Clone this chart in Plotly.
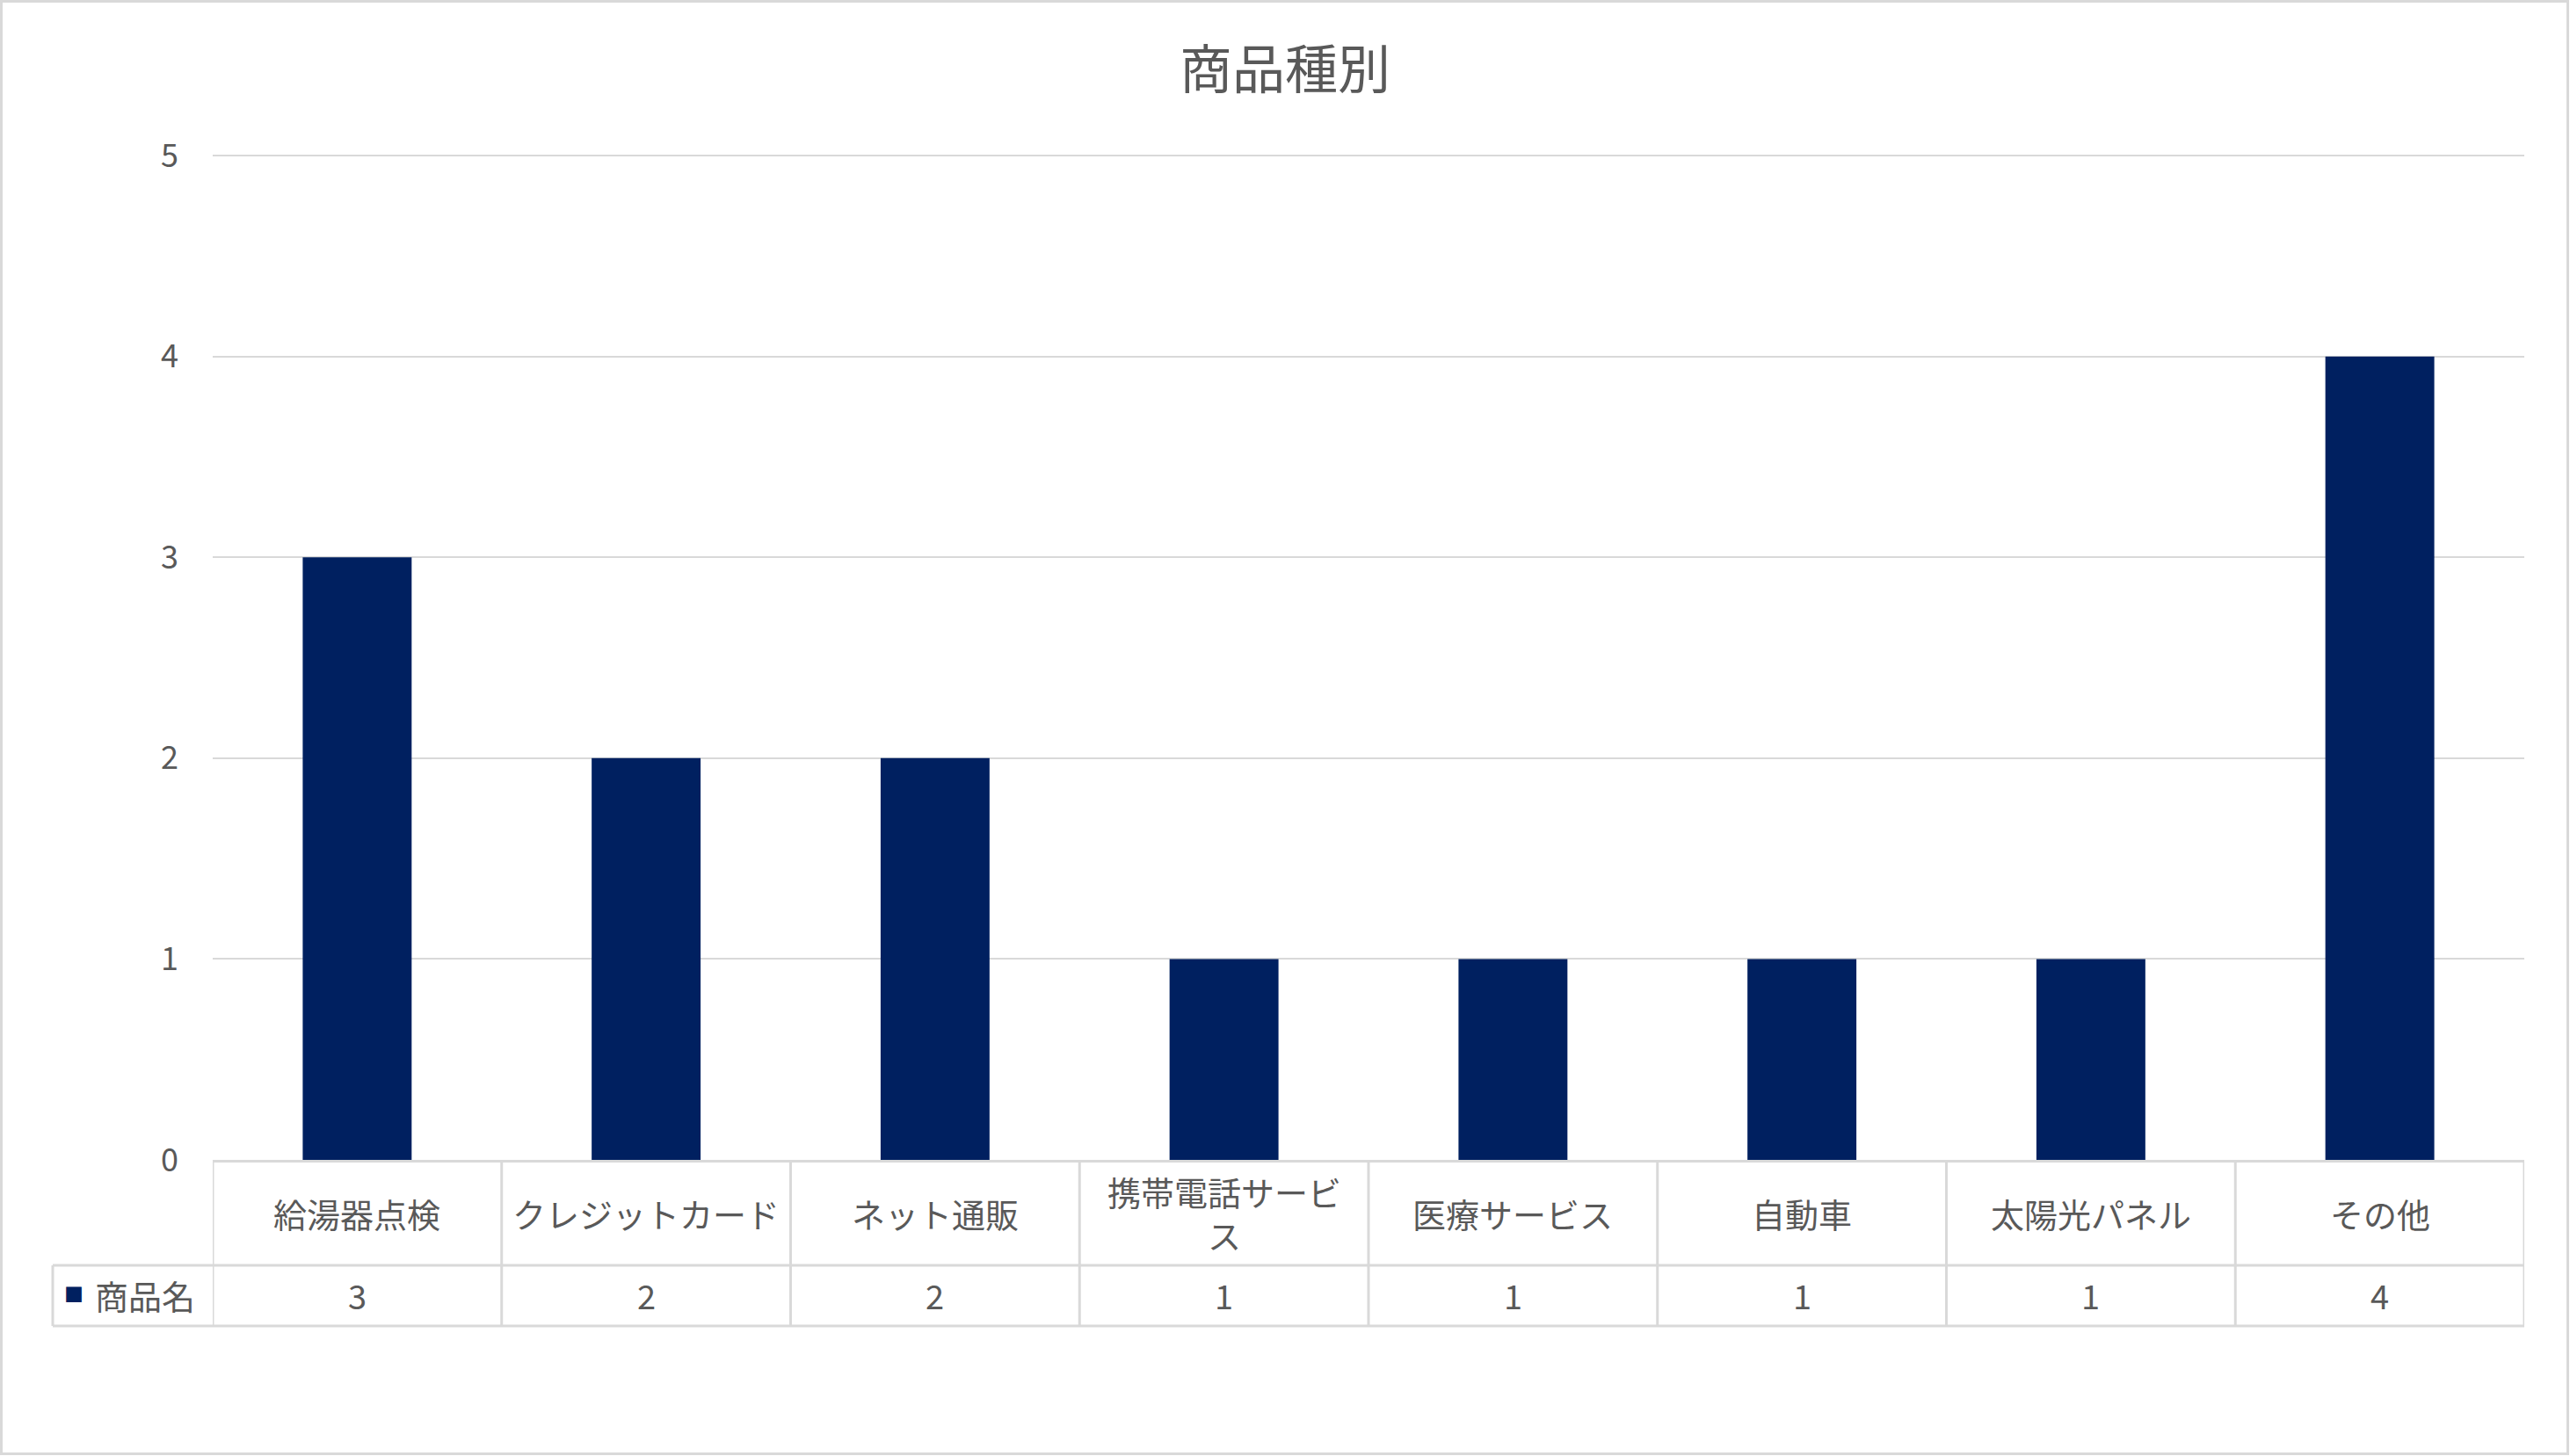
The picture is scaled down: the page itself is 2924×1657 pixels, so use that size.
import plotly.graph_objects as go

# chart data
categories = ["給湯器点検", "クレジットカード", "ネット通販", "携帯電話サービ<br>ス",
              "医療サービス", "自動車", "太陽光パネル", "その他"]
counts = [3, 2, 2, 1, 1, 1, 1, 4]
series_name = "商品名"
title_text = "商品種別"
y_ticks = [0, 1, 2, 3, 4, 5]

W, H = 2924, 1657
L, R, T, B = 242, 52, 176, 337
plot_w = W - L - R
plot_h = H - T - B

NAVY = "#002060"
GRID = "#d9d9d9"
TXT = "#595959"
FONT = "Noto Sans CJK JP"


def py(px):
    # pixel offset below the x axis -> paper y
    return -px / plot_h


def pxp(px):
    # absolute pixel x -> paper x
    return (px - L) / plot_w


n = len(categories)
left_col = pxp(60)  # left edge of the legend column (paper x)

fig = go.Figure(go.Bar(x=list(range(n)), y=counts, name=series_name,
                       marker=dict(color=NAVY, line=dict(width=0)),
                       width=0.377, showlegend=False))

shapes = []
# table horizontal lines (paper refs so they can reach into the margin)
for off in [120, 189]:
    shapes.append(dict(type="line", xref="paper", yref="paper", x0=left_col, x1=1,
                       y0=py(off), y1=py(off), line=dict(color=GRID, width=3)))
# table vertical lines at category boundaries
for i in range(n + 1):
    shapes.append(dict(type="line", xref="x", yref="paper", x0=i - 0.5, x1=i - 0.5,
                       y0=0, y1=py(189), line=dict(color=GRID, width=3)))
shapes.append(dict(type="line", xref="paper", yref="paper", x0=left_col, x1=left_col,
                   y0=py(120), y1=py(189), line=dict(color=GRID, width=3)))
# outer border
shapes.append(dict(type="rect", xref="paper", yref="paper",
                   x0=pxp(1.5), x1=pxp(W - 2.5), y0=py(B - 2.5),
                   y1=1 + (T - 1.5) / plot_h, line=dict(color=GRID, width=3), layer="below"))

annotations = []
for i, (c, v) in enumerate(zip(categories, counts)):
    annotations.append(dict(x=i, y=py(60), xref="x", yref="paper", text=c,
                            showarrow=False, font=dict(size=38, color=TXT, family=FONT),
                            xanchor="center", yanchor="middle"))
    annotations.append(dict(x=i, y=py(153), xref="x", yref="paper", text=str(v),
                            showarrow=False, font=dict(size=38, color=TXT, family=FONT),
                            xanchor="center", yanchor="middle"))
# legend key + series name
annotations.append(dict(x=pxp(84), y=py(151), xref="paper", yref="paper", text="■",
                        showarrow=False, font=dict(size=22, color=NAVY, family=FONT),
                        xanchor="center", yanchor="middle"))
annotations.append(dict(x=pxp(106), y=py(153), xref="paper", yref="paper", text=series_name,
                        showarrow=False, font=dict(size=38, color=TXT, family=FONT),
                        xanchor="left", yanchor="middle"))

fig.update_layout(
    width=W, height=H,
    margin=dict(l=L, r=R, t=T, b=B),
    paper_bgcolor="white", plot_bgcolor="white",
    font=dict(family=FONT, color=TXT),
    title=dict(text=title_text, x=0.5, xanchor="center", y=1 - 80 / H, yanchor="middle",
               font=dict(size=60, color=TXT, family=FONT)),
    xaxis=dict(range=[-0.5, n - 0.5], showticklabels=False, showgrid=False,
               zeroline=False, showline=True, linecolor=GRID, linewidth=3, fixedrange=True),
    yaxis=dict(range=[0, 5.005], tickvals=y_ticks, showgrid=True, gridcolor=GRID, gridwidth=2,
               zeroline=False, showline=False, ticks="", ticklabelstandoff=38,
               tickfont=dict(size=36, color=TXT, family=FONT)),
    shapes=shapes,
    annotations=annotations,
)

fig.write_html("out.html", config={"displayModeBar": False},
               post_script="document.body.style.margin='0px';")
